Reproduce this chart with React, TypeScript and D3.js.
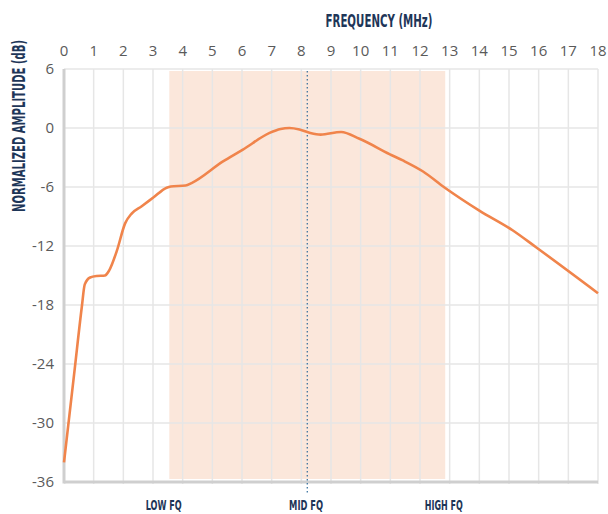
import * as d3 from "d3";
import React from "react";

// frequency response
const freqMHz = [0, 0.35, 0.6, 0.7, 0.88, 1.1, 1.38, 1.52, 1.78, 2.06, 2.28, 2.62, 3.0, 3.46, 3.6, 4.1, 4.3, 5.36, 6.03, 6.93, 7.3, 7.6, 7.94, 8.3, 8.65, 9.34, 9.96, 10.97, 11.42, 12.09, 12.85, 14.0, 15.12, 15.9, 18];
const amplitudeDb = [-34.0, -24.8, -18.2, -15.9, -15.2, -15.05, -15.0, -14.5, -12.5, -9.7, -8.7, -7.95, -7.1, -6.07, -5.95, -5.85, -5.6, -3.4, -2.2, -0.5, -0.1, 0, -0.15, -0.5, -0.67, -0.4, -1.1, -2.65, -3.3, -4.4, -6.1, -8.4, -10.4, -12.1, -16.8];

const xTicks = d3.range(0, 19);
const yTicks = [6, 0, -6, -12, -18, -24, -30, -36];

// shaded band and markers
const band = [3.55, 12.85];
const midFreq = 8.2;
const bandLabels = [
  { text: "LOW FQ", freq: 3.36, len: 36 },
  { text: "MID FQ", freq: 8.16, len: 34 },
  { text: "HIGH FQ", freq: 12.8, len: 38 },
];

const W = 608;
const H = 514;
const margin = { top: 69, right: 10, bottom: 32, left: 64 };

const condensed = "'Liberation Sans Narrow', 'DejaVu Sans Condensed', sans-serif";
const navy = "#1e3658";

export default function App() {
  const x = d3.scaleLinear().domain([0, 18]).range([margin.left, 598]);
  const y = d3.scaleLinear().domain([-36, 6]).range([H - margin.bottom, margin.top]);

  const pts = freqMHz.map((f, i) => [f, amplitudeDb[i]] as [number, number]);
  const line = d3
    .line<[number, number]>()
    .x(d => x(d[0]))
    .y(d => y(d[1]))
    .curve(d3.curveMonotoneX);

  const y0 = y(6);
  const y1 = y(-36);

  return (
    <svg width={W} height={H} style={{ position: "absolute", left: 0, top: 0, background: "#fff" }}>
      {/* band */}
      <rect x={x(band[0])} y={y0 + 2} width={x(band[1]) - x(band[0])} height={y1 - y0 - 5} fill="#fbe7db" />

      {/* grid */}
      {xTicks.slice(1).map(t => (
        <line key={"gx" + t} x1={x(t)} x2={x(t)} y1={y0} y2={y1 + 2} stroke="#e6e6e6" strokeWidth={1.5} />
      ))}
      {yTicks.slice(0, -1).map(t => (
        <line key={"gy" + t} x1={margin.left} x2={x(18)} y1={y(t)} y2={y(t)} stroke="#e6e6e6" strokeWidth={1.5} />
      ))}

      {/* axes */}
      <line x1={margin.left} x2={margin.left} y1={y0} y2={y1 + 1.5} stroke="#cfcfcf" strokeWidth={3} />
      <line x1={margin.left} x2={x(18)} y1={y1} y2={y1} stroke="#cfcfcf" strokeWidth={3} />

      {/* mid line */}
      <line x1={x(midFreq)} x2={x(midFreq)} y1={y0 + 2} y2={495} stroke="#2d6a9a" strokeWidth={1.2} strokeDasharray="1.5 2.5" />

      {/* curve */}
      <path d={line(pts) || ""} fill="none" stroke="#f0844b" strokeWidth={2.6} strokeLinejoin="round" />

      {/* tick labels */}
      {xTicks.map(t => (
        <text key={"tx" + t} x={x(t)} y={56} textAnchor="middle" fontFamily="'Open Sans', sans-serif" fontSize={15} fill="#5a5a5a">
          {t}
        </text>
      ))}
      {yTicks.map(t => (
        <text key={"ty" + t} x={54} y={y(t) + 5} textAnchor="end" fontFamily="'Open Sans', sans-serif" fontSize={15} fill="#5a5a5a">
          {t}
        </text>
      ))}

      {/* titles */}
      <text x={379} y={27} textAnchor="middle" fontFamily={condensed} fontWeight="bold" fontSize={17} fill={navy} textLength={107} lengthAdjust="spacingAndGlyphs">
        FREQUENCY (MHz)
      </text>
      <text transform="translate(25,126) rotate(-90)" textAnchor="middle" fontFamily={condensed} fontWeight="bold" fontSize={17} fill={navy} textLength={172} lengthAdjust="spacingAndGlyphs">
        NORMALIZED AMPLITUDE (dB)
      </text>

      {bandLabels.map(b => (
        <text key={b.text} x={x(b.freq)} y={510} textAnchor="middle" fontFamily={condensed} fontWeight="bold" fontSize={14} fill={navy} textLength={b.len} lengthAdjust="spacingAndGlyphs">
          {b.text}
        </text>
      ))}
    </svg>
  );
}
